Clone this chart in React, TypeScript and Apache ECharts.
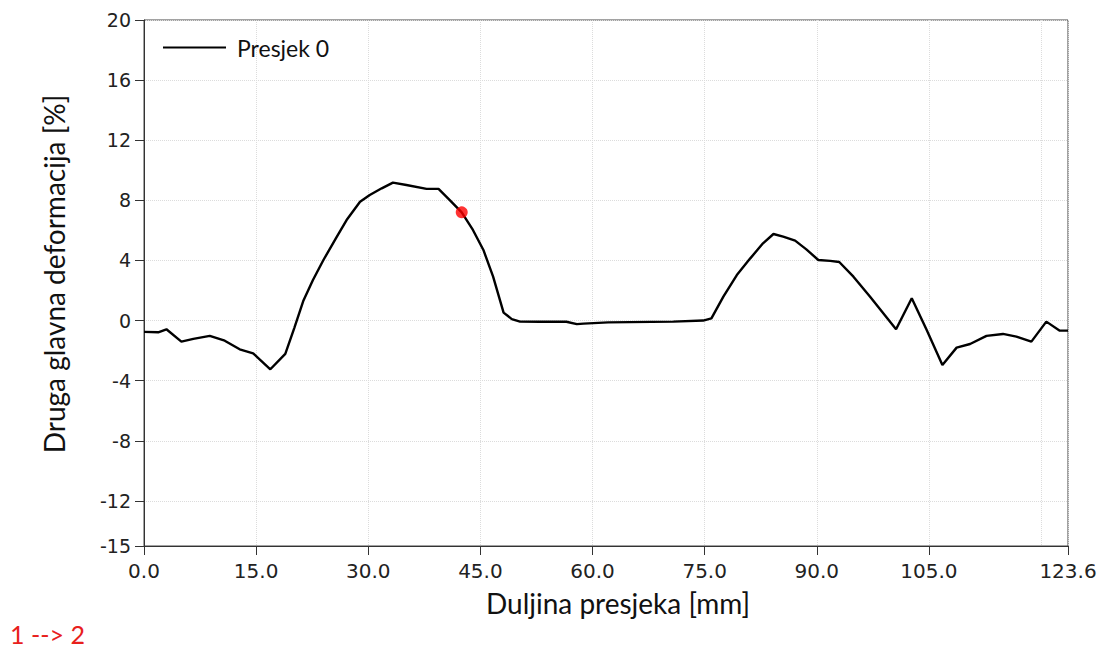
import React, { useEffect, useRef } from "react";
import * as echarts from "echarts";

const seriesName = "Presjek 0";
const xValues = [
  0.0, 1.9, 3.0, 5.0, 6.6, 8.8, 10.8, 12.8, 14.6, 16.9, 18.9, 20.1, 21.3, 22.6, 24.0, 25.8, 27.1, 28.9,
  30.2, 31.8, 33.3, 35.1, 37.8, 39.4, 40.9, 42.5, 44.0, 45.4, 46.7, 48.1, 49.2, 50.3, 52.9, 56.5, 57.9,
  58.8, 62.1, 70.8, 74.8, 75.9, 77.5, 79.3, 81.1, 82.8, 84.2, 85.5, 87.1, 88.6, 90.2, 91.8, 93.0, 94.9,
  97.1, 100.6, 102.7, 104.7, 106.8, 108.7, 110.5, 112.7, 114.9, 116.7, 118.7, 120.7, 122.5, 123.6,
];
const yValues = [
  -0.75, -0.78, -0.58, -1.4, -1.22, -1.02, -1.34, -1.91, -2.18, -3.24, -2.22, -0.5, 1.3, 2.7, 4.03, 5.58,
  6.69, 7.91, 8.36, 8.8, 9.18, 9.02, 8.76, 8.76, 8.02, 7.2, 6.03, 4.7, 2.92, 0.53, 0.1, -0.07, -0.08,
  -0.08, -0.24, -0.2, -0.12, -0.07, 0.0, 0.15, 1.59, 3.03, 4.14, 5.14, 5.76, 5.58, 5.32, 4.74, 4.03,
  3.97, 3.9, 2.92, 1.6, -0.58, 1.48, -0.63, -2.95, -1.8, -1.56, -1.02, -0.89, -1.07, -1.4, -0.07, -0.67,
  -0.67,
];
const markerPoint = [42.5, 7.2];
const xTickLabels = [0, 15, 30, 45, 60, 75, 90, 105, 123.6];
const yTickLabels = [-15, -12, -8, -4, 0, 4, 8, 12, 16, 20];
const xTitle = "Duljina presjeka [mm]";
const yTitle = "Druga glavna deformacija [%]";
const noteText = "1 --> 2";

export default function App() {
  const ref = useRef<HTMLDivElement>(null);
  useEffect(() => {
    if (!ref.current) return;
    const chart = echarts.init(ref.current, null, { renderer: "svg" });
    const tickFont = "'DejaVu Sans', Verdana, sans-serif";
    const titleFont = "Lato, 'Open Sans', sans-serif";
    chart.setOption({
      animation: false,
      backgroundColor: "#ffffff",
      grid: {
        left: 144,
        right: 39,
        top: 20,
        bottom: 102,
        show: true,
        borderColor: "#444",
        borderWidth: 1,
      },
      legend: {
        left: 158,
        top: 31,
        itemWidth: 63,
        itemHeight: 2,
        data: [{ name: seriesName, icon: "rect", itemStyle: { color: "#000" } }],
        textStyle: { fontFamily: titleFont, fontSize: 23, color: "#111", padding: [0, 0, 0, 6] },
      },
      xAxis: [
        {
          type: "value",
          min: 0,
          max: 123.6,
          axisLine: { show: true, onZero: false, lineStyle: { color: "#333", width: 1 } },
          axisTick: { show: true, length: 9, customValues: xTickLabels, lineStyle: { color: "#333" } },
          axisLabel: {
            customValues: xTickLabels,
            formatter: (v: number) => v.toFixed(1),
            fontFamily: tickFont,
            fontSize: 20,
            color: "#222",
            margin: 15,
          },
          splitLine: { show: false },
        },
        {
          type: "value",
          min: 0,
          max: 123.6,
          interval: 15,
          position: "top",
          axisLine: { show: false },
          axisTick: { show: false },
          axisLabel: { show: false },
          splitLine: { show: true, lineStyle: { color: "#dcdcdc", type: "dotted", width: 1 } },
        },
      ],
      yAxis: {
        type: "value",
        min: -15,
        max: 20,
        axisLine: { show: true, onZero: false, lineStyle: { color: "#333", width: 1 } },
        axisTick: { show: true, length: 9, customValues: yTickLabels, lineStyle: { color: "#333" } },
        axisLabel: {
          customValues: yTickLabels,
          fontFamily: tickFont,
          fontSize: 19,
          color: "#222",
          margin: 13,
        },
        splitLine: { show: true, lineStyle: { color: "#dcdcdc", type: "dotted", width: 1 } },
      },
      series: [
        {
          name: seriesName,
          type: "line",
          xAxisIndex: 0,
          symbol: "none",
          lineStyle: { color: "#000", width: 2.4 },
          itemStyle: { color: "#000" },
          data: xValues.map((x, i) => [x, yValues[i]]),
          z: 3,
        },
        {
          name: "marker",
          type: "scatter",
          xAxisIndex: 0,
          symbolSize: 12,
          itemStyle: { color: "#ff0000" },
          data: [markerPoint],
          z: 4,
        },
      ],
      graphic: [
        {
          type: "text",
          x: 618,
          y: 603,
          style: {
            text: xTitle,
            fontFamily: titleFont,
            fontSize: 28,
            fill: "#111",
            align: "center",
            verticalAlign: "middle",
          },
        },
        {
          type: "text",
          x: 54,
          y: 274,
          rotation: Math.PI / 2,
          style: {
            text: yTitle,
            fontFamily: titleFont,
            fontSize: 28,
            fill: "#111",
            align: "center",
            verticalAlign: "middle",
          },
        },
        {
          type: "text",
          x: 10,
          y: 634,
          style: {
            text: noteText,
            fontFamily: titleFont,
            fontSize: 25,
            fill: "#e8201c",
            align: "left",
            verticalAlign: "middle",
          },
        },
      ],
    });
    return () => chart.dispose();
  }, []);
  return (
    <div
      ref={ref}
      style={{ position: "absolute", left: 0, top: 0, width: 1107, height: 648 }}
    />
  );
}
